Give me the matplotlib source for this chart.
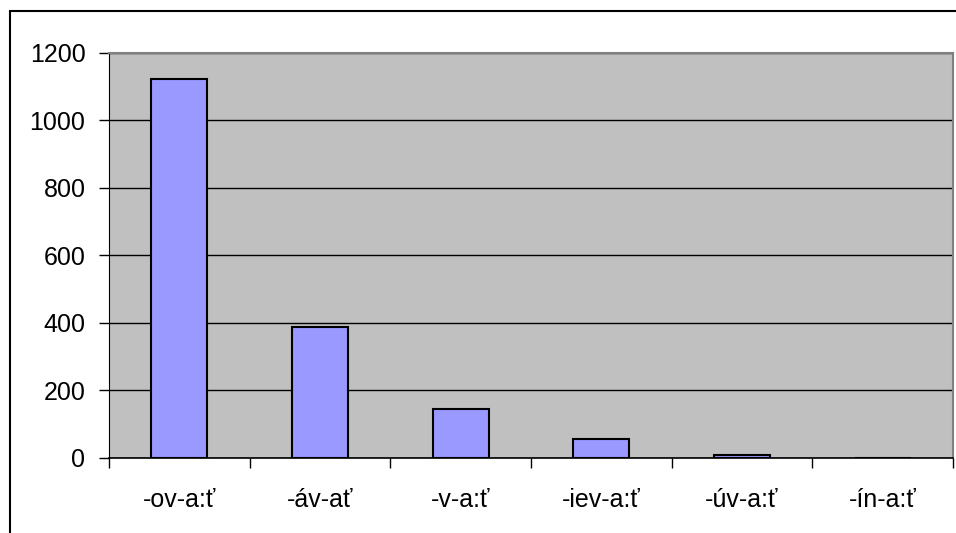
import numpy as np
import matplotlib.pyplot as plt
from matplotlib.patches import Rectangle

categories = ['-ov-a:ť', '-áv-ať', '-v-a:ť', '-iev-a:ť', '-úv-a:ť', '-ín-a:ť']
counts = [1122, 388, 143, 54, 6, 0]
yticks = [0, 200, 400, 600, 800, 1000, 1200]

plt.rcParams['font.family'] = ['Liberation Sans', 'DejaVu Sans']

fig = plt.figure(figsize=(9.56, 5.33), dpi=100)
ax = fig.add_axes([109/956, 1 - 457.5/533, (953 - 109)/956, (457.5 - 53)/533])
ax.set_facecolor('#c0c0c0')

x = np.arange(len(categories))
ax.set_axisbelow(True)
ax.yaxis.grid(True, color='black', lw=1)
ax.bar(x, counts, width=0.4, color='#9999ff', edgecolor='black', lw=1.5, zorder=3)

ax.set_xlim(-0.5, len(categories) - 0.5)
ax.set_ylim(0, 1200)
ax.set_yticks(yticks)
ax.set_xticks(x)
ax.set_xticklabels(categories)
ax.set_xticks(np.arange(len(categories) + 1) - 0.5, minor=True)
ax.tick_params(axis='x', which='major', length=0, pad=22, labelsize=18)
ax.tick_params(axis='x', which='minor', length=7, width=1, direction='out')
ax.tick_params(axis='y', length=7, width=1, pad=10, labelsize=18)

for side in ['top', 'right']:
    ax.spines[side].set_color('#808080')
    ax.spines[side].set_linewidth(1.5)
ax.spines['left'].set_color('black')
ax.spines['bottom'].set_color('black')
ax.spines['bottom'].set_linewidth(1.2)

# outer chart frame, runs past the right and bottom edges
fig.patches.append(Rectangle((10/956, -0.1), 1.0, 1 - 11/533 + 0.1,
                             transform=fig.transFigure, fill=False,
                             ec='black', lw=1.5))

fig.savefig('out.png', dpi=100)
